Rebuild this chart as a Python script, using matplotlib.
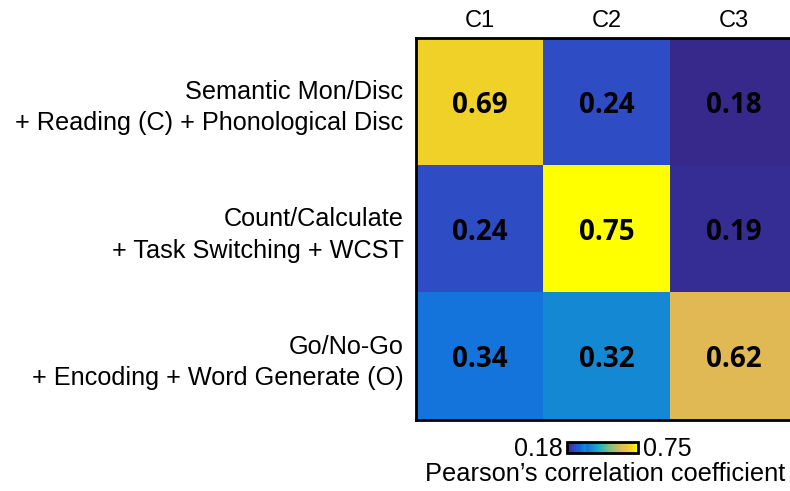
import numpy as np
import matplotlib
matplotlib.use("Agg")
import matplotlib.pyplot as plt
from matplotlib.colors import LinearSegmentedColormap

# data
col_labels = ["C1", "C2", "C3"]
row_labels = ["Semantic Mon/Disc\n+ Reading (C) + Phonological Disc",
              "Count/Calculate\n+ Task Switching + WCST",
              "Go/No-Go\n+ Encoding + Word Generate (O)"]
corr = np.array([[0.69, 0.24, 0.18],
                 [0.24, 0.75, 0.19],
                 [0.34, 0.32, 0.62]])
vmin, vmax = 0.18, 0.75
cbar_label = "Pearson\u2019s correlation coefficient"

# parula-ish colormap (hand tuned to the picture)
parula = LinearSegmentedColormap.from_list("parula_like", [
    (0.00, "#37288C"),
    (0.10, "#2F4CC4"),
    (0.18, "#1464DC"),
    (0.25, "#148CD2"),
    (0.28, "#1473DC"),
    (0.45, "#1FAFC0"),
    (0.60, "#80C080"),
    (0.77, "#E1B955"),
    (0.90, "#F0D228"),
    (1.00, "#FFFF00"),
])

plt.rcParams['font.family'] = ['Liberation Sans', 'DejaVu Sans']

fig = plt.figure(figsize=(7.9, 4.91), dpi=100)
W, H = 790.0, 491.0
ax = fig.add_axes([416/W, 1-420/H, 381/W, 382/H])
im = ax.imshow(corr, cmap=parula, vmin=vmin, vmax=vmax, aspect='auto')

for i in range(corr.shape[0]):
	for j in range(corr.shape[1]):
		ax.text(j, i, "%.2f" % corr[i, j], ha='center', va='center_baseline',
				fontsize=20, fontweight='bold', family='Open Sans', color='black')

ax.set_xticks(range(len(col_labels)))
ax.set_xticklabels(col_labels, fontsize=17)
ax.xaxis.tick_top()
ax.set_yticks(range(len(row_labels)))
ax.set_yticklabels(row_labels, fontsize=18.2, linespacing=1.38, ha='right')
ax.tick_params(length=0, pad=9)
ax.tick_params(axis='x', pad=4)
for s in ax.spines.values():
	s.set_linewidth(2)

cax = fig.add_axes([567/W, 1-453/H, 71/W, 11/H])
cb = fig.colorbar(im, cax=cax, orientation='horizontal')
cb.set_ticks([])
cb.outline.set_linewidth(2)
fig.text(563/W, 1-449/H, "%.2f" % vmin, ha='right', va='center', fontsize=18)
fig.text(643/W, 1-449/H, "%.2f" % vmax, ha='left', va='center', fontsize=18)
fig.text(605/W, 1-474/H, cbar_label, ha='center', va='center', fontsize=18.3)

fig.savefig("out.png", dpi=100)
